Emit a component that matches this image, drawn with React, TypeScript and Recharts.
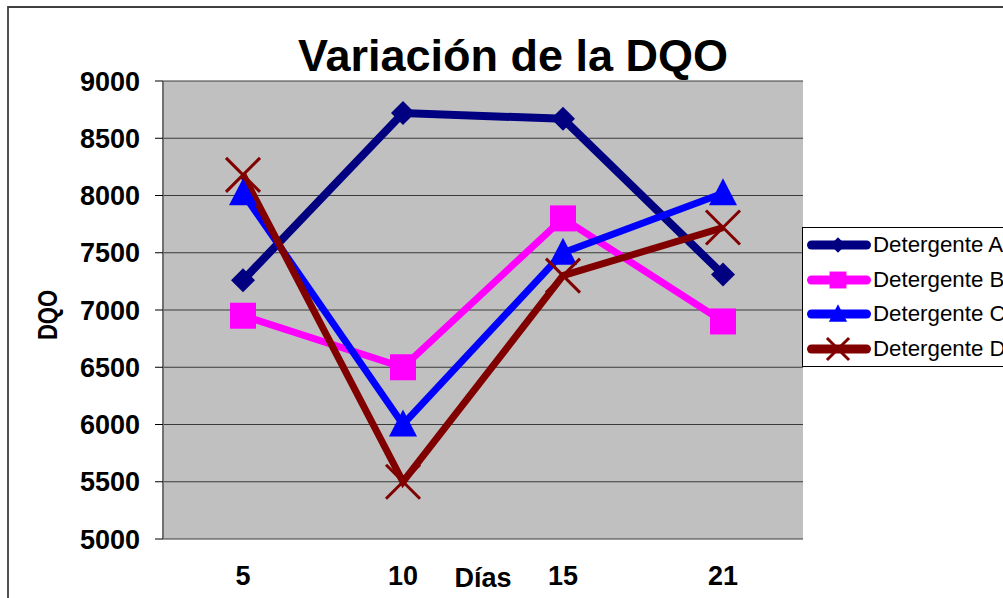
import React from 'react';
import { LineChart, Line, XAxis, YAxis, CartesianGrid, Legend } from 'recharts';

const dias = ['5', '10', '15', '21'];
const detA = [7260, 8720, 8670, 7310];
const detB = [6950, 6500, 7800, 6900];
const detC = [8020, 6000, 7500, 8020];
const detD = [8180, 5500, 7300, 7720];
const yTicks = [5000, 5500, 6000, 6500, 7000, 7500, 8000, 8500, 9000];
const bandTicks = [0, 1, 2, 3, 4];
const seriesNames = ['Detergente A', 'Detergente B', 'Detergente C', 'Detergente D'];
const seriesKeys = ['A', 'B', 'C', 'D'];
const seriesColors = ['#000080', '#FF00FF', '#0000FF', '#800000'];
const seriesMarkers = ['diamond', 'square', 'triangle', 'x'];
const titleText = 'Variación de la DQO';
const xTitle = 'Días';
const yTitle = 'DQO';

const data = dias.map((d, i) => ({ dia: d, A: detA[i], B: detB[i], C: detC[i], D: detD[i] }));

const FONT = '"Liberation Sans", Arial, sans-serif';

function Marker({ type, cx, cy, color, s }: { type: string; cx: number; cy: number; color: string; s: number }) {
  if (type === 'diamond') {
    const h = 12 * s;
    return <polygon points={`${cx},${cy - h} ${cx + h},${cy} ${cx},${cy + h} ${cx - h},${cy}`} fill={color} />;
  }
  if (type === 'square') {
    const h = 13 * s;
    return <rect x={cx - h} y={cy - h} width={2 * h} height={2 * h} fill={color} />;
  }
  if (type === 'triangle') {
    return (
      <polygon
        points={`${cx},${cy - 15 * s} ${cx + 14 * s},${cy + 12 * s} ${cx - 14 * s},${cy + 12 * s}`}
        fill={color}
      />
    );
  }
  const h = 17 * s;
  return (
    <g stroke={color} strokeWidth={3}>
      <line x1={cx - h} y1={cy - h} x2={cx + h} y2={cy + h} />
      <line x1={cx - h} y1={cy + h} x2={cx + h} y2={cy - h} />
    </g>
  );
}

const makeDot = (idx: number) => (props: any) => {
  const { cx, cy, index } = props;
  if (cx == null || cy == null) return <g key={`d-${idx}-${index}`} />;
  return (
    <g key={`d-${idx}-${index}`}>
      <Marker type={seriesMarkers[idx]} cx={cx} cy={cy} color={seriesColors[idx]} s={1} />
    </g>
  );
};

const LegendBox = (props: any) => {
  const payload = (props.payload && props.payload.length ? props.payload : seriesNames.map((n, i) => ({ value: n, color: seriesColors[i], dataKey: seriesKeys[i] })));
  return (
    <div
      style={{
        border: '1px solid #000',
        borderRight: 'none',
        background: '#fff',
        width: 260,
        height: 140,
        boxSizing: 'border-box',
        fontFamily: FONT,
      }}
    >
      {payload.map((p: any, i: number) => {
        const idx = Math.max(0, seriesKeys.indexOf(String(p.dataKey)));
        const color = seriesColors[idx];
        return (
          <div key={i} style={{ display: 'flex', alignItems: 'center', height: 34.5 }}>
            <svg width={70} height={34} style={{ display: 'block', flex: 'none' }}>
              <line x1={8.5} y1={17} x2={63.5} y2={17} stroke={color} strokeWidth={9} strokeLinecap="round" />
              <Marker type={seriesMarkers[idx]} cx={35} cy={17} color={color} s={0.65} />
            </svg>
            <span style={{ fontSize: 22.3, color: '#000', whiteSpace: 'nowrap', lineHeight: '34px' }}>{p.value}</span>
          </div>
        );
      })}
    </div>
  );
};

export default function App() {
  return (
    <div
      style={{
        position: 'fixed',
        left: 0,
        top: 0,
        width: 1003,
        height: 598,
        overflow: 'hidden',
        background: '#fff',
        fontFamily: FONT,
      }}
    >
      <LineChart width={1003} height={598} data={data} margin={{ top: 81, right: 200, bottom: 0, left: 0 }}>
        <CartesianGrid
          xAxisId="cat"
          yAxisId="val"
          vertical={false}
          fill="#C0C0C0"
          fillOpacity={1}
          stroke="#3a3a3a"
        />
        <XAxis
          xAxisId="marks"
          type="number"
          domain={[0, 4]}
          ticks={bandTicks}
          allowDataOverflow
          height={0}
          tick={false}
          tickSize={8}
          tickLine={{ stroke: '#000' }}
          axisLine={{ stroke: '#000' }}
        />
        <XAxis
          xAxisId="cat"
          dataKey="dia"
          type="category"
          padding={{ left: 80, right: 80 }}
          height={59}
          axisLine={false}
          tickLine={false}
          tickSize={0}
          tickMargin={27}
          interval={0}
          tick={{ fontSize: 27, fontWeight: 'bold', fill: '#000', fontFamily: FONT }}
          label={(p: any) => {
            const vb = p.viewBox || { x: 163, y: 539, width: 640, height: 59 };
            return (
              <text
                x={vb.x + vb.width / 2}
                y={vb.y + 48}
                textAnchor="middle"
                fontSize={27}
                fontWeight="bold"
                fill="#000"
                fontFamily={FONT}
              >
                {xTitle}
              </text>
            );
          }}
        />
        <XAxis
          xAxisId="top"
          orientation="top"
          type="number"
          domain={[0, 4]}
          allowDataOverflow
          height={0}
          tick={false}
          tickLine={false}
          axisLine={{ stroke: '#8a8a8a', strokeWidth: 2 }}
        />
        <YAxis
          yAxisId="val"
          type="number"
          domain={[5000, 9000]}
          ticks={yTicks}
          width={163}
          tickSize={8}
          tickMargin={15}
          interval={0}
          tickLine={{ stroke: '#000' }}
          axisLine={{ stroke: '#707070', strokeWidth: 2 }}
          tick={{ fontSize: 27, fontWeight: 'bold', fill: '#000', fontFamily: FONT }}
          label={(p: any) => {
            const vb = p.viewBox || { x: 0, y: 81, width: 163, height: 458 };
            const cx = vb.x + 57;
            const cy = vb.y + vb.height / 2 + 5;
            return (
              <text
                x={cx}
                y={cy}
                transform={`rotate(-90, ${cx}, ${cy})`}
                textAnchor="middle"
                fontSize={27}
                fontWeight="bold"
                fill="#000"
                fontFamily={FONT}
                textLength={50}
                lengthAdjust="spacingAndGlyphs"
              >
                {yTitle}
              </text>
            );
          }}
        />
        <YAxis
          yAxisId="r"
          orientation="right"
          type="number"
          domain={[5000, 9000]}
          allowDataOverflow
          width={0}
          tick={false}
          tickLine={false}
          axisLine={{ stroke: '#8a8a8a', strokeWidth: 2 }}
        />
        {seriesKeys.map((k, i) => (
          <Line
            key={k}
            xAxisId="cat"
            yAxisId="val"
            type="linear"
            dataKey={k}
            name={seriesNames[i]}
            stroke={seriesColors[i]}
            strokeWidth={i === 0 ? 8 : 7}
            dot={makeDot(i)}
            activeDot={false}
            isAnimationActive={false}
          />
        ))}
        <Legend
          layout="vertical"
          align="center"
          verticalAlign="middle"
          content={LegendBox}
          wrapperStyle={{ left: 802, top: 227, width: 260, height: 140 }}
        />
      </LineChart>
      <svg
        width={1003}
        height={598}
        style={{ position: 'absolute', left: 0, top: 0, pointerEvents: 'none' }}
      >
        <path d="M8,598 L8,7 L1003,7" fill="none" stroke="#404040" strokeWidth={1.8} />
        <text x={513} y={71} textAnchor="middle" fontSize={45} fontWeight="bold" fill="#000" fontFamily={FONT}>
          {titleText}
        </text>
      </svg>
    </div>
  );
}
